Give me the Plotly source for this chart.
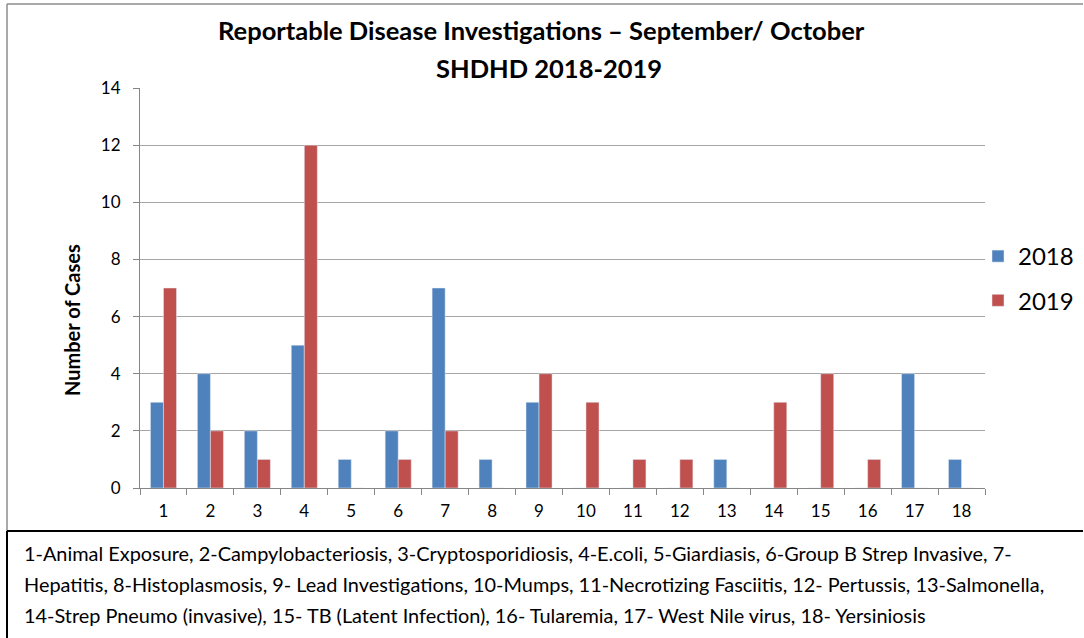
import plotly.graph_objects as go

categories = [str(i) for i in range(1, 19)]
cases_2018 = [3, 4, 2, 5, 1, 2, 7, 1, 3, 0, 0, 0, 1, 0, 0, 0, 4, 1]
cases_2019 = [7, 2, 1, 12, 0, 1, 2, 0, 4, 3, 1, 1, 0, 3, 4, 1, 0, 0]
y_ticks = [0, 2, 4, 6, 8, 10, 12, 14]
title_lines = ["Reportable Disease Investigations – September/ October", "SHDHD 2018-2019"]
y_title = "Number of Cases"
footer_lines = [
    "1-Animal Exposure, 2-Campylobacteriosis, 3-Cryptosporidiosis, 4-E.coli, 5-Giardiasis, 6-Group B Strep Invasive, 7-",
    "Hepatitis, 8-Histoplasmosis, 9- Lead Investigations, 10-Mumps, 11-Necrotizing Fasciitis, 12- Pertussis, 13-Salmonella,",
    "14-Strep Pneumo (invasive), 15- TB (Latent Infection), 16- Tularemia, 17- West Nile virus, 18- Yersiniosis",
]

W, H = 1084, 638
L, R, T, B = 140, 985, 88, 488  # plot area in pixels
FONT = "Lato"

def px(x):
    return (x - L) / (R - L)

def py(y):
    return (B - y) / (B - T)

fig = go.Figure()
fig.add_trace(go.Bar(x=categories, y=cases_2018, name="2018", marker_color="#4F81BD",
                     legendgroup="a"))
fig.add_trace(go.Bar(x=categories, y=cases_2019, name="2019", marker_color="#C0504D",
                     legendgroup="b"))

fig.update_layout(
    width=W, height=H,
    margin=dict(l=L, r=W - R, t=T, b=H - B, autoexpand=False),
    paper_bgcolor="white", plot_bgcolor="white",
    barmode="group", bargap=0.445, bargroupgap=0,
    font=dict(family=FONT, color="black"),
    showlegend=True,
    legend=dict(x=px(978), y=py(234), xanchor="left", yanchor="top",
                font=dict(size=24, family=FONT), tracegroupgap=10,
                traceorder="grouped", bgcolor="rgba(0,0,0,0)"),
    xaxis=dict(type="category", showline=True, linecolor="#868686", linewidth=1,
               ticks="outside", ticklen=6, tickcolor="#868686", tickson="boundaries",
               tickfont=dict(size=17, family=FONT), showgrid=False, ticklabelstandoff=8),
    yaxis=dict(range=[0, 14], tickvals=y_ticks, showline=True, linecolor="#868686",
               linewidth=1, ticks="outside", ticklen=6, tickcolor="#868686",
               showgrid=True, gridcolor="#A6A6A6", gridwidth=1,
               tickfont=dict(size=17, family=FONT), zeroline=False, ticklabelstandoff=9),
)

def seg(x0, y0, x1, y1, color, width):
    return dict(type="line", xref="paper", yref="paper", x0=px(x0), x1=px(x1),
                y0=py(y0), y1=py(y1), line=dict(color=color, width=width))

shapes = [
    seg(7, 4, 1083, 4, "#8C8C8C", 1.5),
    seg(7, 4, 7, 531, "#8C8C8C", 1.5),
    seg(7, 531, 1083, 531, "black", 2),
    seg(7, 531, 7, 638, "black", 2),
]
fig.update_layout(shapes=shapes)

annotations = [
    dict(text="<b>" + title_lines[0] + "</b>", x=px(541), y=py(30), xref="paper", yref="paper",
         showarrow=False, font=dict(size=25.5, family=FONT), xanchor="center", yanchor="middle"),
    dict(text="<b>" + title_lines[1] + "</b>", x=px(549), y=py(68), xref="paper", yref="paper",
         showarrow=False, font=dict(size=25.5, family=FONT), xanchor="center", yanchor="middle"),
    dict(text="<b>" + y_title + "</b>", x=px(72), y=py(320), xref="paper", yref="paper",
         showarrow=False, font=dict(size=20, family=FONT), textangle=-90,
         xanchor="center", yanchor="middle"),
]
for i, line in enumerate(footer_lines):
    annotations.append(dict(text=line, x=px(22), y=py(553 + 31 * i), xref="paper", yref="paper",
                            showarrow=False, font=dict(size=19.9, family=FONT),
                            xanchor="left", yanchor="middle", align="left"))
fig.update_layout(annotations=annotations)

fig.write_html("out.html", config={"displayModeBar": False},
               post_script="document.body.style.margin='0';document.body.style.overflow='hidden';")
